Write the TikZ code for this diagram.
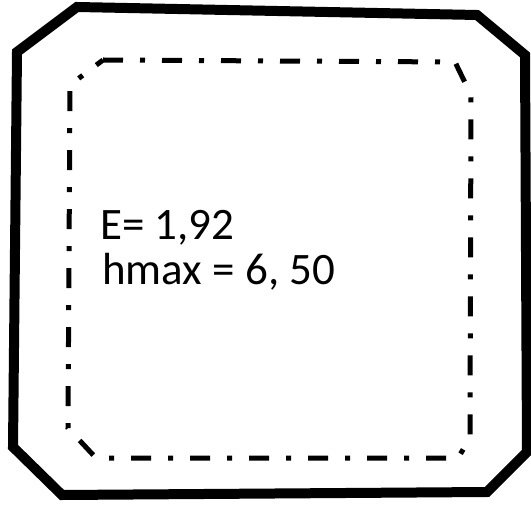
\documentclass[tikz,border=0pt]{standalone}
\usepackage{fontspec}
\setmainfont{Carlito}
\usepackage{tikz}
\usetikzlibrary{positioning}

\begin{document}
\begin{tikzpicture}[
    x=0.75pt,y=-0.75pt,
    outline/.style={line width=7.5pt,line join=miter},
    zone/.style={line width=3.75pt,dash pattern=on 15pt off 12.75pt on 3.75pt off 12.75pt},
    value/.style={font=\fontsize{33.75}{33.75}\selectfont,inner sep=0pt,anchor=base west}
]
\useasboundingbox (0,0) rectangle (531,505);

\draw[outline]
    (17,52) -- (77,7) -- (477,15) -- (525,55)
    -- (527,452) -- (487,492) -- (62,495) -- (13,447) -- cycle;

\draw[zone]
    (103,60) -- (455,62) -- (471,95) -- (470,438)
    -- (458,458) -- (96,458) -- (68,428) -- (70,85) -- cycle;

\node[value] (energy) at (100,240) {E= 1,92};
\node[value] (height) at (102,285) {hmax = 6, 50};
\end{tikzpicture}
\end{document}
